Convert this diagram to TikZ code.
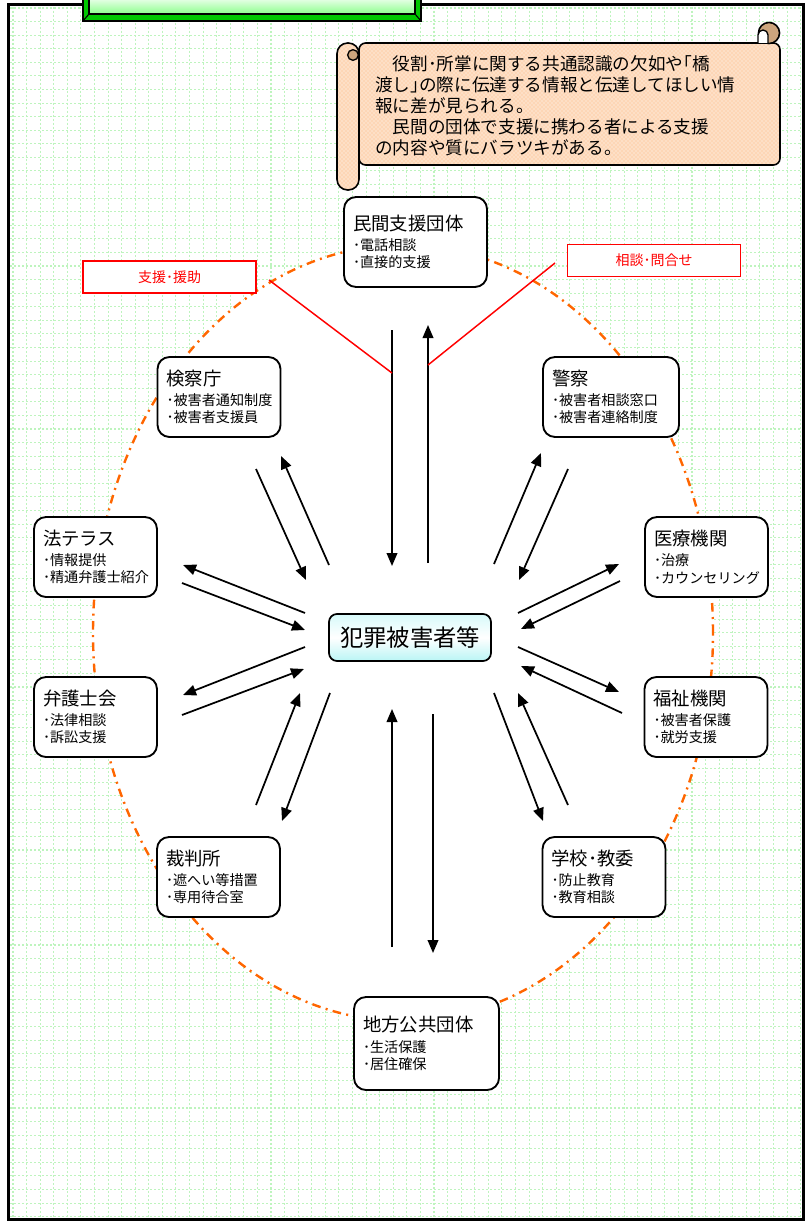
\documentclass[tikz,border=0pt]{standalone}
\usepackage{fontspec}
\setmainfont{Noto Sans CJK JP}
\usetikzlibrary{arrows.meta,patterns}

\definecolor{ringorange}{RGB}{255,102,0}
\definecolor{gridgreen}{RGB}{190,244,190}
\definecolor{peach}{RGB}{253,214,182}
\definecolor{curltan}{RGB}{205,165,125}
\definecolor{bevelgreen}{RGB}{0,200,0}

\tikzset{
  orgbox/.style={draw, line width=1.4pt, fill=white, rounded corners=9pt, align=left,
    inner xsep=6.75pt, inner ysep=0pt, text width=78.75pt, minimum height=60pt,
    font=\fontsize{10.6pt}{13.1pt}\selectfont},
  victimbox/.style={draw, line width=1.3pt, rounded corners=6pt,
    top color={rgb,255:red,215;green,250;blue,250}, bottom color={rgb,255:red,185;green,245;blue,245},
    middle color=white, minimum width=121.5pt, minimum height=35.25pt,
    font=\fontsize{17.5pt}{20pt}\selectfont},
  labelbox/.style={draw=red, line width=1.3pt, fill=white, text=red,
    minimum width=129.75pt, minimum height=24pt, font=\fontsize{10.5pt}{12pt}\selectfont},
  flow/.style={-{Triangle[length=9.75pt,width=8pt]}, line width=1.3pt},
  redlink/.style={red, line width=1.1pt},
  gridline/.style={gridgreen, line width=0.8pt, dash pattern=on 1.5pt off 1.5pt},
  scroll/.style={draw, line width=1.2pt, preaction={fill=peach}, pattern=crosshatch dots, pattern color=white},
}
\newcommand{\orgname}[1]{{\fontsize{13.8pt}{15pt}\selectfont #1}\\[2pt]}

\begin{document}
\begin{tikzpicture}[x=0.75pt,y=-0.75pt]
  % Fondo, cuadricula y marco
  \useasboundingbox (0,0) rectangle (809,1223);
  \fill[white] (0,0) rectangle (809,1223);
  \foreach \i in {0,...,58} \draw[gridline] ({13+13.58*\i},7) -- ++(0,1211);
  \foreach \j in {0,...,89} \draw[gridline] (10,{8+13.58*\j}) -- ++(792,0);
  \draw[line width=2.25pt] (8.7,4.7) rectangle (803,1219);

  % Titulo verde (cortado arriba)
  \fill[bevelgreen] (83,-3) rectangle (421,21);
  \shade[top color=green!5, bottom color=green!45] (89,-3) rectangle (415,14);
  \draw[line width=0.8pt] (89,-3) -- (89,14) -- (415,14) -- (415,-3);
  \draw[line width=0.8pt] (83,21) -- (89,14) (421,21) -- (415,14);
  \draw[line width=1.5pt] (83,-3) -- (83,21) -- (421,21) -- (421,-3);

  % Elipse
  \draw[ringorange, line width=1.8pt, dash pattern=on 6.5pt off 4pt on 1.5pt off 4pt, fill=white]
    (403,633) ellipse [x radius=232.5pt, y radius=291pt];

  % Pergamino
  \draw[scroll, rounded corners=5pt] (359,43) rectangle (780,165);
  \draw[scroll, rounded corners=8pt] (337,43) rectangle (359,190);
  \draw[fill=curltan, line width=1pt] (353,55) circle (4pt);
  \draw[fill=curltan, line width=1.2pt] (769,33) circle (7.9pt);
  \draw[fill=white, line width=1pt] (758,43) -- (758,35) arc[start angle=180, end angle=0, radius=3.75pt] -- (768,43);
  \node[anchor=north west, inner sep=0pt, align=left, font=\fontsize{13.2pt}{15.75pt}\selectfont] (note) at (375,55)
    {　役割･所掌に関する共通認識の欠如や｢橋\\渡し｣の際に伝達する情報と伝達してほしい情\\報に差が見られる。\\　民間の団体で支援に携わる者による支援\\の内容や質にバラツキがある。};

  % Nodo central
  \node[victimbox] (center) at (410,637.5) {犯罪被害者等};

  % Organismos
  \node[orgbox, text width=93.75pt, minimum height=67.5pt] (ngo) at (415.5,242) {\orgname{民間支援団体}･電話相談\\･直接的支援};
  \node[orgbox] (prosec) at (219,397) {\orgname{検察庁}･被害者通知制度\\･被害者支援員};
  \node[orgbox, text width=88.5pt] (police) at (611,397) {\orgname{警察}･被害者相談窓口\\･被害者連絡制度};
  \node[orgbox] (legal) at (95.5,557) {\orgname{法テラス}･情報提供\\･精通弁護士紹介};
  \node[orgbox] (medical) at (706.5,557) {\orgname{医療機関}･治療\\･カウンセリング};
  \node[orgbox] (bar) at (95.5,717) {\orgname{弁護士会}･法律相談\\･訴訟支援};
  \node[orgbox] (welfare) at (706,717) {\orgname{福祉機関}･被害者保護\\･就労支援};
  \node[orgbox] (court) at (218.5,877) {\orgname{裁判所}･遮へい等措置\\･専用待合室};
  \node[orgbox] (school) at (604,877) {\orgname{学校･教委}･防止教育\\･教育相談};
  \node[orgbox, text width=95.25pt, minimum height=69.75pt] (local) at (426.5,1043.5) {\orgname{地方公共団体}･生活保護\\･居住確保};

  % Etiquetas rojas
  \node[labelbox] (support) at (169.5,277) {支援･援助};
  \node[labelbox] (inquiry) at (654,260.5) {相談･問合せ};

  % Conectores
  \coordinate (t1a) at (392,330); \coordinate (t1b) at (392,566);
  \coordinate (t2a) at (428,563); \coordinate (t2b) at (428,325);
  \draw[flow] (t1a) -- (t1b); \draw[flow] (t2a) -- (t2b);
  \coordinate (b1a) at (392,947); \coordinate (b1b) at (392,709);
  \coordinate (b2a) at (433,714); \coordinate (b2b) at (433,953);
  \draw[flow] (b1a) -- (b1b); \draw[flow] (b2a) -- (b2b);
  \coordinate (k1a) at (256,469); \coordinate (k1b) at (306,580);
  \coordinate (k2a) at (329,565); \coordinate (k2b) at (281,456);
  \draw[flow] (k1a) -- (k1b); \draw[flow] (k2a) -- (k2b);
  \coordinate (p1a) at (494,564); \coordinate (p1b) at (541,453);
  \coordinate (p2a) at (568,469); \coordinate (p2b) at (519,580);
  \draw[flow] (p1a) -- (p1b); \draw[flow] (p2a) -- (p2b);
  \coordinate (h1a) at (305,613); \coordinate (h1b) at (183,565);
  \coordinate (h2a) at (182,583); \coordinate (h2b) at (305,630);
  \draw[flow] (h1a) -- (h1b); \draw[flow] (h2a) -- (h2b);
  \coordinate (m1a) at (518,613); \coordinate (m1b) at (619,564);
  \coordinate (m2a) at (620,581); \coordinate (m2b) at (521,629);
  \draw[flow] (m1a) -- (m1b); \draw[flow] (m2a) -- (m2b);
  \coordinate (l1a) at (305,647); \coordinate (l1b) at (183,695);
  \coordinate (l2a) at (182,715); \coordinate (l2b) at (304,669);
  \draw[flow] (l1a) -- (l1b); \draw[flow] (l2a) -- (l2b);
  \coordinate (f1a) at (518,647); \coordinate (f1b) at (619,692);
  \coordinate (f2a) at (622,713); \coordinate (f2b) at (521,666);
  \draw[flow] (f1a) -- (f1b); \draw[flow] (f2a) -- (f2b);
  \coordinate (s1a) at (256,805); \coordinate (s1b) at (300,693);
  \coordinate (s2a) at (330,693); \coordinate (s2b) at (282,821);
  \draw[flow] (s1a) -- (s1b); \draw[flow] (s2a) -- (s2b);
  \coordinate (g1a) at (494,693); \coordinate (g1b) at (543,821);
  \coordinate (g2a) at (568,805); \coordinate (g2b) at (518,693);
  \draw[flow] (g1a) -- (g1b); \draw[flow] (g2a) -- (g2b);

  % Lineas rojas
  \coordinate (r1) at (269,280); \coordinate (r1e) at (392,373);
  \coordinate (r2) at (555,263); \coordinate (r2e) at (428,365);
  \draw[redlink] (r1) -- (r1e);
  \draw[redlink] (r2) -- (r2e);
\end{tikzpicture}
\end{document}
